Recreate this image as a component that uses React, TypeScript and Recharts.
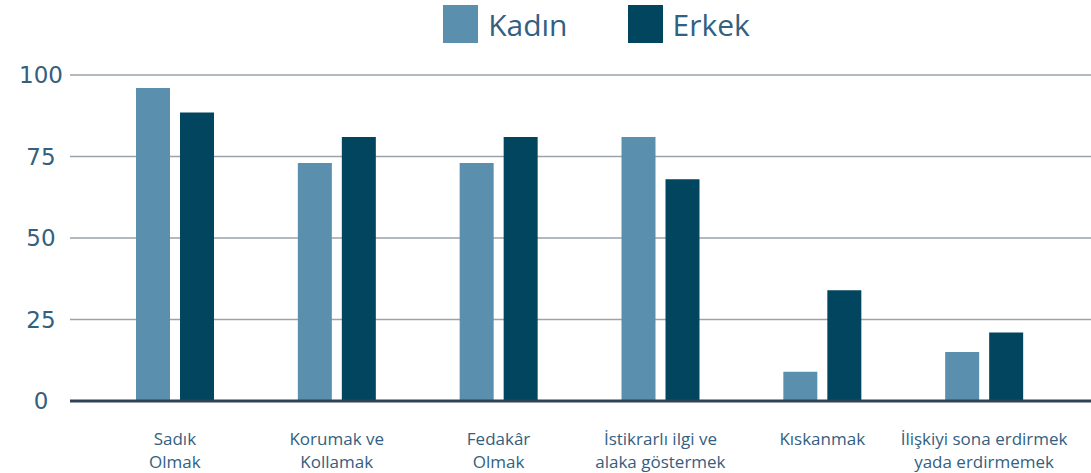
import React from "react";
import { BarChart, Bar, XAxis, YAxis, CartesianGrid, Legend } from "recharts";

const categories = [
  "Sadık\nOlmak",
  "Korumak ve\nKollamak",
  "Fedakâr\nOlmak",
  "İstikrarlı ilgi ve\nalaka göstermek",
  "Kıskanmak",
  "İlişkiyi sona erdirmek\nyada erdirmemek",
];
const kadin = [96, 73, 73, 81, 9, 15];
const erkek = [88.5, 81, 81, 68, 34, 21];
const yTicks = [0, 25, 50, 75, 100];
const seriesNames = ["Kadın", "Erkek"];

const data = categories.map((name, i) => ({ name, Kadın: kadin[i], Erkek: erkek[i] }));

const KADIN = "#5b8fae";
const ERKEK = "#02455f";
const TEXT = "#33607f";
const colors: Record<string, string> = { Kadın: KADIN, Erkek: ERKEK };

const XTick = ({ x, y, payload }: any) => {
  const lines = String(payload.value).split("\n");
  return (
    <text x={x} y={y} textAnchor="middle" fill={TEXT} fontSize={17} fontFamily="Open Sans">
      {lines.map((l: string, i: number) => (
        <tspan key={i} x={x} dy={i === 0 ? 36 : 23}>
          {l}
        </tspan>
      ))}
    </text>
  );
};

const YTick = ({ y, payload }: any) => (
  <text x={41} y={y} dy={8} textAnchor="middle" fill={TEXT} fontSize={23} fontFamily="DejaVu Sans">
    {payload.value}
  </text>
);

const LegendContent = () => (
  <div style={{ display: "flex", justifyContent: "center", height: 44, paddingLeft: 102 }}>
    {seriesNames.map((n) => (
      <div key={n} style={{ display: "flex", alignItems: "center", margin: "0 30px" }}>
        <div style={{ width: 35, height: 38, background: colors[n], marginRight: 10 }} />
        <span style={{ fontFamily: "Open Sans", fontSize: 30, color: TEXT }}>{n}</span>
      </div>
    ))}
  </div>
);

export default function App() {
  return (
    <div style={{ position: "absolute", left: 0, top: 0, background: "#fff" }}>
      <BarChart
        width={1091}
        height={473}
        data={data}
        margin={{ top: 31, right: 0, bottom: 0, left: 0 }}
        barSize={34}
        barGap={10}
      >
        <CartesianGrid vertical={false} stroke="#9aa3aa" strokeWidth={1.5} />
        <XAxis
          dataKey="name"
          interval={0}
          tick={<XTick />}
          tickLine={false}
          axisLine={{ stroke: "#2e4456", strokeWidth: 3 }}
          height={72}
          padding={{ left: 24, right: 26 }}
        />
        <YAxis
          domain={[0, 100]}
          ticks={yTicks}
          width={70}
          tick={<YTick />}
          tickLine={false}
          axisLine={false}
        />
        <Legend
          verticalAlign="top"
          align="center"
          content={<LegendContent />}
          wrapperStyle={{ top: 2 }}
        />
        <Bar dataKey="Kadın" fill={KADIN} isAnimationActive={false} />
        <Bar dataKey="Erkek" fill={ERKEK} isAnimationActive={false} />
      </BarChart>
    </div>
  );
}
